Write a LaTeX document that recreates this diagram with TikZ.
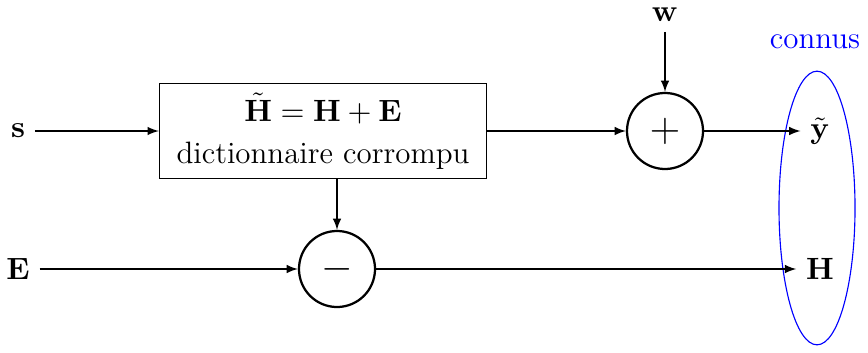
\documentclass[tikz,border=0pt]{standalone}
\usepackage{amsmath, amssymb}
\usepackage{tikz}
\usetikzlibrary{shapes,arrows,positioning,calc}
\tikzset{
	block/.style = {
		draw, 
		rectangle, 
		minimum height=1.19cm, 
		minimum width=4.09cm, 
		align=center
	},
	signal/.style = {
		->, 
		>=latex
	},
	sum/.style = {
		draw, 
		circle, 
		minimum size=0.95cm, 
		thick,
		inner sep=0pt
	},
	known/.style = {
		draw=blue, 
		ellipse, 
		minimum width=0.95cm, 
		minimum height=3.42cm
	}
}

\begin{document}
\begin{tikzpicture}[x=0.0125cm, y=-0.0125cm, font=\fontsize{11}{15}\selectfont]
		
		\useasboundingbox (0,0) rectangle (868,352);
		
		% --- NOEUDS ---
		% Entrées
		\node (s) at (18,131) {$\mathbf{s}$};
		\node (E) at (18,269) {$\mathbf{E}$};
		\node (w) at (665,15) {$\mathbf{w}$};
		
		% Dictionnaire corrompu
		\node [block] (dict) at (323,131) {$\tilde{\mathbf{H}} = \mathbf{H} + \mathbf{E}$ \\ dictionnaire corrompu};
		
		% Additionneur et soustracteur
		\node [sum] (plus) at (665,131) {\Large$+$};
		\node [sum] (minus) at (337,269) {\Large$-$};
		
		% Sorties
		\node (yt) at (820,131) {$\tilde{\mathbf{y}}$};
		\node (H) at (820,269) {$\mathbf{H}$};
		
		% Ellipse des grandeurs connues
		\node [known] (conn) at (817,208) {};
		\node [blue] (connus) at (815,42) {connus};
		
		% --- CONNEXIONS ---
		\draw [signal] (s) -- (dict.west |- s);
		\draw [signal] (dict) -- (plus);
		\draw [signal] (w) -- (plus);
		\draw [signal] (plus) -- (yt.west |- plus);
		
		\draw [signal] (dict.south -| minus) -- (minus);
		\draw [signal] (E) -- (minus);
		\draw [signal] (minus) -- (H.west |- minus);
		
	\end{tikzpicture}
\end{document}
